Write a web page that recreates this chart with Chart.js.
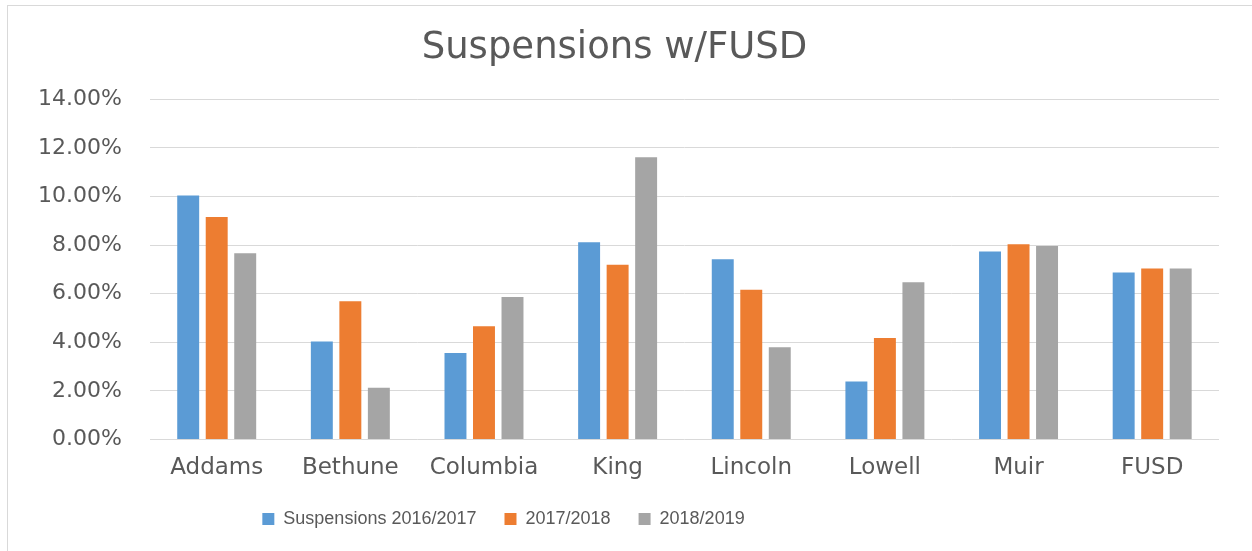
<!DOCTYPE html>
<html>
<head>
<meta charset="utf-8">
<script src="https://cdn.jsdelivr.net/npm/chart.js@4/dist/chart.umd.min.js"></script>
<style>
  html, body { margin: 0; padding: 0; background: #fff; overflow: hidden; }
  #frame {
    position: absolute; left: 7px; top: 5px; width: 1300px; height: 600px;
    border: 1px solid #d9d9d9; box-sizing: border-box;
  }
  #wrap { position: absolute; left: 0; top: 0; width: 1252px; height: 551px; }
</style>
</head>
<body>
<div id="frame"></div>
<div id="wrap"><canvas id="chart"></canvas></div>
<script>
// ── Data (percent values) ────────────────────────────────────
const schools = ["Addams", "Bethune", "Columbia", "King", "Lincoln", "Lowell", "Muir", "FUSD"];
const susp1617 = [10.04, 4.03, 3.56, 8.12, 7.42, 2.38, 7.74, 6.87];
const susp1718 = [9.16, 5.69, 4.66, 7.19, 6.16, 4.18, 8.04, 7.04];
const susp1819 = [7.66, 2.13, 5.86, 11.62, 3.79, 6.47, 7.96, 7.04];
const seriesNames = ["Suspensions 2016/2017", "2017/2018", "2018/2019"];
const yTicks = [0, 2, 4, 6, 8, 10, 12, 14];

// ── Styling ──────────────────────────────────────────────────
const TEXT = "#595959";
const GRID = "#d9d9d9";
const colors = ["#5b9bd5", "#ed7d31", "#a5a5a5"];
const LEGEND_SHIFT = -111;   // reference legend sits left of centre

// shift the legend block sideways after layout
const legendShift = {
  id: "legendShift",
  afterLayout(chart) {
    const lg = chart.legend;
    if (!lg) return;
    lg.left  += LEGEND_SHIFT;
    lg.right += LEGEND_SHIFT;
  },
};

const ds = (label, data, i) => ({
  label,
  data,
  backgroundColor: colors[i],
  borderWidth: 0,
  categoryPercentage: 0.64,
  barPercentage: 0.77,
});

new Chart(document.getElementById("chart"), {
  type: "bar",
  data: {
    labels: schools,
    datasets: [
      ds(seriesNames[0], susp1617, 0),
      ds(seriesNames[1], susp1718, 1),
      ds(seriesNames[2], susp1819, 2),
    ],
  },
  plugins: [legendShift],
  options: {
    responsive: true,
    maintainAspectRatio: false,
    animation: false,
    layout: { padding: { left: 10, right: 33, top: 0, bottom: 13 } },
    plugins: {
      title: {
        display: true,
        text: "Suspensions w/FUSD",
        color: TEXT,
        font: { family: "DejaVu Sans", size: 37, weight: "normal" },
        padding: { top: 26, bottom: 29 },
      },
      legend: {
        position: "bottom",
        labels: {
          color: TEXT,
          font: { family: "Liberation Sans", size: 18 },
          boxWidth: 12,
          boxHeight: 12,
          padding: 28,
        },
      },
      tooltip: { enabled: false },
    },
    scales: {
      x: {
        grid: { display: false },
        border: { display: false },
        afterFit: s => { s.height -= 7; },
        ticks: {
          color: TEXT,
          font: { family: "DejaVu Sans", size: 23 },
          padding: 7,
          maxRotation: 0,
        },
      },
      y: {
        min: yTicks[0],
        max: yTicks[yTicks.length - 1],
        afterBuildTicks: scale => { scale.ticks = yTicks.map(v => ({ value: v })); },
        grid: { color: GRID, lineWidth: 1, drawTicks: false },
        border: { display: false },
        ticks: {
          color: TEXT,
          font: { family: "DejaVu Sans", size: 22 },
          padding: 28,
          callback: v => v.toFixed(2) + "%",
        },
      },
    },
  },
});
</script>
</body>
</html>
